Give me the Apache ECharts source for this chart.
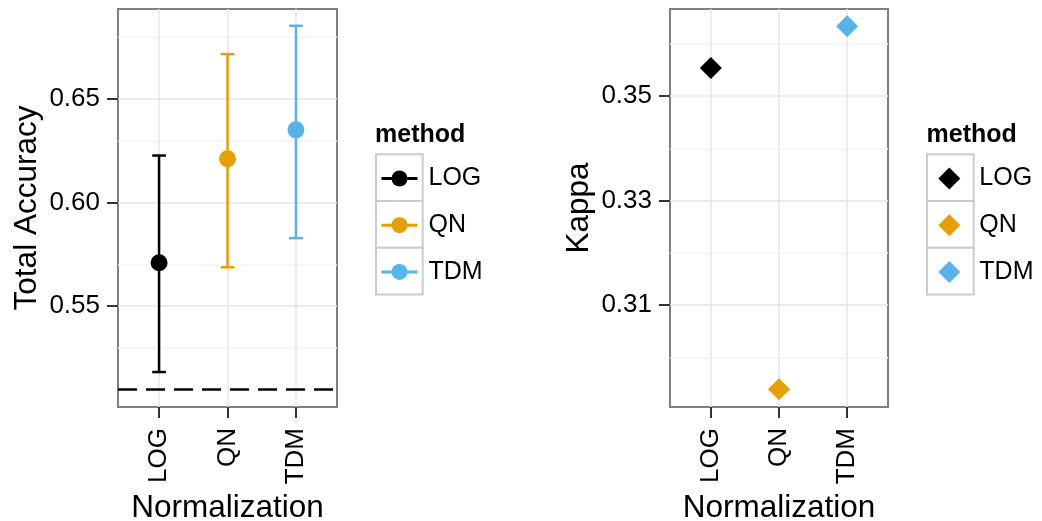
<!DOCTYPE html>
<html>
<head>
<meta charset="utf-8">
<script src="https://cdn.jsdelivr.net/npm/echarts@6/dist/echarts.min.js"></script>
<style>
html, body { margin: 0; padding: 0; background: #fff; }
#chart { width: 1042px; height: 521px; }
</style>
</head>
<body>
<div id="chart"></div>
<script>
// 数据
var methods = ['LOG', 'QN', 'TDM'];
var colors = ['#000000', '#E69F00', '#56B4E9'];
var accMean = [0.5709, 0.6211, 0.6351];
var accLow = [0.5181, 0.5687, 0.5828];
var accHigh = [0.6227, 0.6717, 0.6854];
var accBaseline = 0.51;
var kappa = [0.3554, 0.2939, 0.3634];

// 刻度
var xTicks = [1, 2, 3];
var accTicks = [0.55, 0.60, 0.65];
var accMinor = [0.525, 0.575, 0.625, 0.675];
var kappaTicks = [0.31, 0.33, 0.35];
var kappaMinor = [0.30, 0.32, 0.34, 0.36];

var font = 'Liberation Sans';

// x 轴
var makeX = function(g) {
    return {
        type: 'value', gridIndex: g, min: 0.4, max: 3.6,
        splitLine: { show: false },
        axisLine: { show: false },
        axisTick: { customValues: xTicks, length: 11, lineStyle: { color: '#333', width: 2 } },
        axisLabel: {
            customValues: xTicks, rotate: 90, margin: 21, fontSize: 26, color: '#000', fontFamily: font,
            formatter: function(v) { return methods[Math.round(v) - 1]; }
        },
        name: 'Normalization', nameLocation: 'middle', nameGap: 84,
        nameTextStyle: { fontSize: 31.5, color: '#000', fontFamily: font }
    };
};

// y 轴
var makeY = function(g, min, max, ticks, name, dec) {
    return {
        type: 'value', gridIndex: g, min: min, max: max,
        splitLine: { show: false },
        axisLine: { show: false },
        axisTick: { customValues: ticks, length: 11, lineStyle: { color: '#333', width: 2 } },
        axisLabel: {
            customValues: ticks, margin: 18, fontSize: 26, color: '#000', fontFamily: font,
            formatter: function(v) { return v.toFixed(dec); }
        },
        name: name, nameLocation: 'middle', nameGap: 75,
        nameTextStyle: { fontSize: 31.5, color: '#000', fontFamily: font }
    };
};

// 网格线
var gridLines = function(g, major, minor, extra) {
    var d = [], i;
    for (i = 0; i < minor.length; i++) d.push({ yAxis: minor[i], lineStyle: { color: '#f3f3f3', width: 1.5, type: 'solid' } });
    for (i = 0; i < major.length; i++) d.push({ yAxis: major[i], lineStyle: { color: '#e6e6e6', width: 1.5, type: 'solid' } });
    for (i = 0; i < xTicks.length; i++) d.push({ xAxis: xTicks[i], lineStyle: { color: '#e6e6e6', width: 1.5, type: 'solid' } });
    if (extra) d = d.concat(extra);
    return {
        type: 'line', name: 'grid' + g, xAxisIndex: g, yAxisIndex: g, data: [], z: 1, silent: true,
        markLine: { symbol: 'none', silent: true, z: 1, animation: false, label: { show: false }, data: d }
    };
};

var series = [];

// 误差线
var errData = [];
for (var i = 0; i < methods.length; i++) errData.push([i + 1, accLow[i], accHigh[i], i]);

series.push(gridLines(0, accTicks, accMinor, [
    { yAxis: accBaseline, lineStyle: { color: '#000', width: 2.5, type: [19, 9] } }
]));
series.push(gridLines(1, kappaTicks, kappaMinor));

series.push({
    type: 'custom', name: 'errbar', xAxisIndex: 0, yAxisIndex: 0, z: 3, data: errData,
    renderItem: function(params, api) {
        var x = api.value(0), c = colors[api.value(3)];
        var lo = api.coord([x, api.value(1)]), hi = api.coord([x, api.value(2)]);
        var hw = api.size([0.1, 0])[0];
        var st = { stroke: c, lineWidth: 2.5 };
        return {
            type: 'group', children: [
                { type: 'line', shape: { x1: lo[0], y1: lo[1], x2: hi[0], y2: hi[1] }, style: st },
                { type: 'line', shape: { x1: hi[0] - hw, y1: hi[1], x2: hi[0] + hw, y2: hi[1] }, style: st },
                { type: 'line', shape: { x1: lo[0] - hw, y1: lo[1], x2: lo[0] + hw, y2: lo[1] }, style: st }
            ]
        };
    }
});

for (i = 0; i < methods.length; i++) series.push({
    type: 'line', name: methods[i], xAxisIndex: 0, yAxisIndex: 0, z: 5,
    data: [[i + 1, accMean[i]]],
    symbol: 'circle', symbolSize: 17, showSymbol: true,
    itemStyle: { color: colors[i] }, lineStyle: { color: colors[i], width: 2.5 }
});

for (i = 0; i < methods.length; i++) series.push({
    type: 'scatter', name: methods[i], xAxisIndex: 1, yAxisIndex: 1, z: 5,
    data: [[i + 1, kappa[i]]],
    symbol: 'diamond', symbolSize: 22,
    itemStyle: { color: colors[i], opacity: 1 }
});

// 图例框
var graphic = [];
var boxes = function(x) {
    for (var k = 0; k < 3; k++) graphic.push({
        type: 'rect', left: x, top: 153.3 + k * 46.7, z: 0,
        shape: { width: 46.7, height: 46.7 },
        style: { fill: '#fff', stroke: '#cccccc', lineWidth: 2 }
    });
};
boxes(375);
boxes(926);
graphic.push({ type: 'text', left: 375, top: 123, style: { text: 'method', font: 'bold 25px ' + font, fill: '#000' } });
graphic.push({ type: 'text', left: 926.5, top: 123, style: { text: 'method', font: 'bold 25px ' + font, fill: '#000' } });

var legendText = function(pad) {
    return { fontSize: 25, color: '#000', fontFamily: font, lineHeight: 26, padding: [0, 0, 0, pad] };
};

var option = {
    animation: false,
    backgroundColor: '#fff',
    grid: [
        { left: 118, right: 705, top: 9, bottom: 114, outerBoundsMode: 'none', show: true, borderColor: '#7f7f7f', borderWidth: 2, backgroundColor: '#fff' },
        { left: 670, right: 154, top: 9, bottom: 114, outerBoundsMode: 'none', show: true, borderColor: '#7f7f7f', borderWidth: 2, backgroundColor: '#fff' }
    ],
    xAxis: [makeX(0), makeX(1)],
    yAxis: [
        makeY(0, 0.5012, 0.6935, accTicks, 'Total Accuracy', 2),
        makeY(1, 0.2905, 0.3667, kappaTicks, 'Kappa', 2)
    ],
    legend: [
        {
            data: methods, orient: 'vertical', left: 380, top: 165.5, padding: 0, selectedMode: false,
            itemWidth: 36, itemHeight: 20, itemGap: 20.7, textStyle: legendText(6), z: 4,
            lineStyle: { width: 3 }
        },
        {
            data: methods.map(function(m) { return { name: m, icon: 'diamond' }; }),
            orient: 'vertical', left: 938.3, top: 165.5, padding: 0, selectedMode: false,
            itemWidth: 22, itemHeight: 22, itemGap: 20.7, textStyle: legendText(14), z: 4
        }
    ],
    graphic: graphic,
    series: series
};

var chart = echarts.init(document.getElementById('chart'));
chart.setOption(option);
</script>
</body>
</html>
